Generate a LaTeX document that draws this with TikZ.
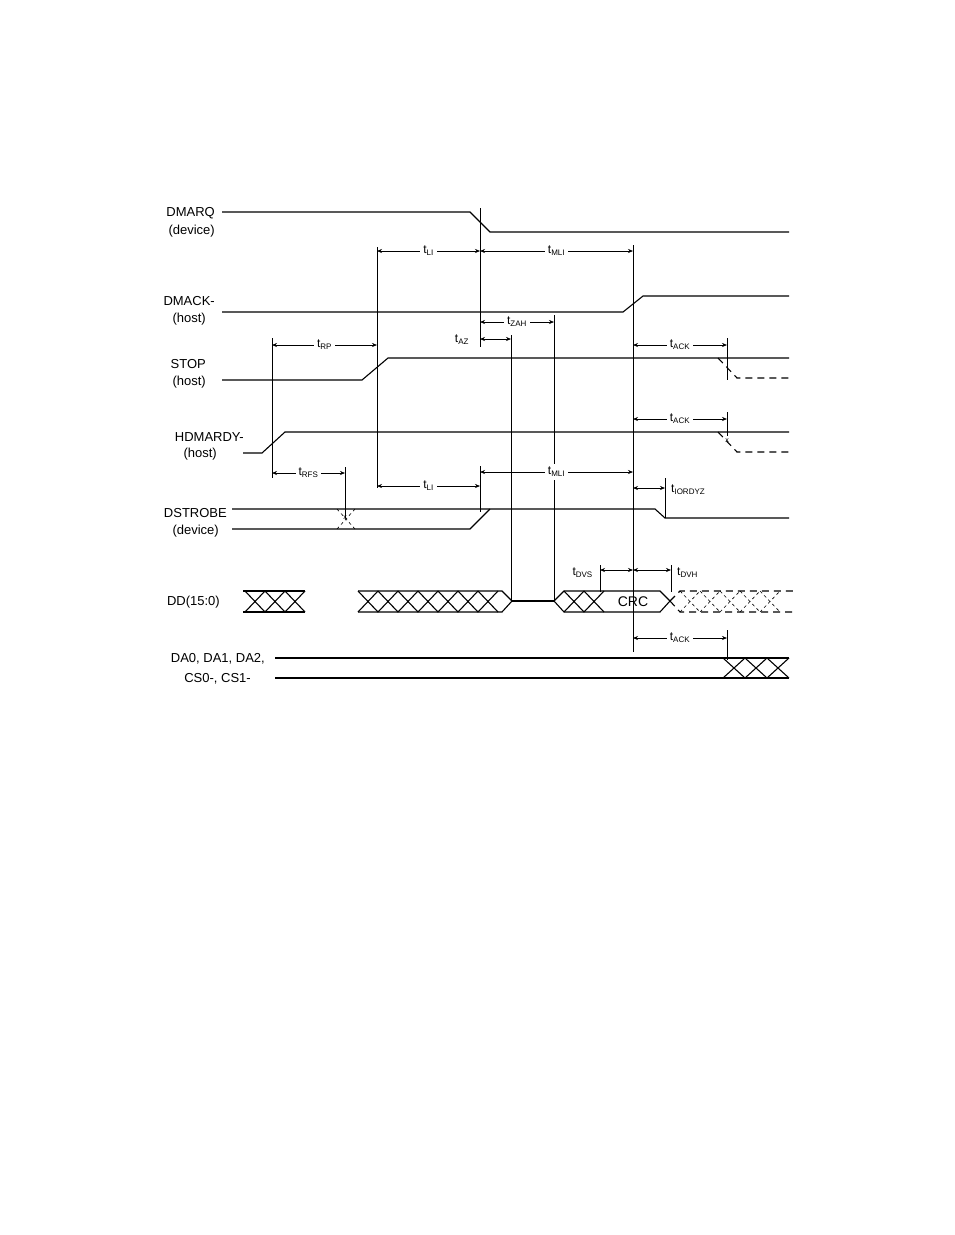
\documentclass[tikz,border=0pt]{standalone}
\usepackage{fontspec}
\setmainfont{Liberation Sans}
\usetikzlibrary{arrows.meta}
\begin{document}
\begin{tikzpicture}[x=1pt,y=-1pt,
  sig/.style={line width=1.1pt},
  vl/.style={line width=0.6pt},
  dim/.style={line width=0.6pt,{Stealth[length=5pt,width=4pt]}-{Stealth[length=5pt,width=4pt]}},
  lbl/.style={font=\fontsize{13}{14}\selectfont,inner sep=1pt},
  tl/.style={font=\fontsize{12}{13}\selectfont,fill=white,inner sep=3pt},
  dsh/.style={sig,dash pattern=on 7pt off 5pt}]
\useasboundingbox (0,0) rectangle (954,1235);
% labels
\node[lbl,anchor=east] (l1) at (216,213) {DMARQ};
\node[lbl,anchor=east] (l1b) at (216,231) {(device)};
\node[lbl,anchor=east] (l2) at (216,301) {DMACK-};
\node[lbl,anchor=east] (l2b) at (207,319) {(host)};
\node[lbl,anchor=east] (l3) at (207,364) {STOP};
\node[lbl,anchor=east] (l3b) at (207,382) {(host)};
\node[lbl,anchor=east] (l4) at (245,437) {HDMARDY-};
\node[lbl,anchor=east] (l4b) at (218,454) {(host)};
\node[lbl,anchor=east] (l5) at (228,513) {DSTROBE};
\node[lbl,anchor=east] (l5b) at (220,531) {(device)};
\node[lbl,anchor=east] (l6) at (221,602) {DD(15:0)};
\node[lbl,anchor=east] (l7) at (266,659) {DA0, DA1, DA2,};
\node[lbl,anchor=east] (l7b) at (252,679) {CS0-, CS1-};
% signals
\draw[sig] (222,212) -- (470,212) -- (490,232) -- (789,232);
\draw[sig] (222,312) -- (623,312) -- (643,296) -- (789,296);
\draw[sig] (222,380) -- (362,380) -- (388,358) -- (789,358);
\draw[dsh] (718,358) -- (737,378) -- (789,378);
\draw[sig] (243,453) -- (262,453) -- (285,432) -- (789,432);
\draw[dsh] (718,432) -- (737,452) -- (789,452);
\node[font=\scriptsize] (x1) at (727,441) {x};
\draw[sig] (232,509) -- (655,509) -- (665,518) -- (789,518);
\draw[sig] (232,529) -- (470,529) -- (490,509);
\draw[vl,dashed] (337,509) -- (355,529) (337,529) -- (355,509);
\node[font=\scriptsize] (x2) at (345,518) {x};
% DD bus
\draw[sig] (243,591) -- (305,591) (243,612) -- (305,612);
\foreach \a in {245,265,285} \draw[sig] (\a,591) -- (\a+20,612) (\a,612) -- (\a+20,591);
\draw[sig] (358,591) -- (502,591) -- (512,601) -- (502,612) -- (358,612);
\foreach \a in {358,378,...,478} \draw[sig] (\a,591) -- (\a+20,612) (\a,612) -- (\a+20,591);
\draw[sig] (512,601) -- (554,601);
\draw[sig] (554,601) -- (564,591) -- (660,591) -- (670,601) -- (660,612) -- (564,612) -- cycle;
\foreach \a in {564,584} \draw[sig] (\a,591) -- (\a+20,612) (\a,612) -- (\a+20,591);
\draw[dsh] (670,601) -- (680,591) -- (795,591) (670,601) -- (680,612) -- (795,612);
\foreach \a in {680,700,...,770} \draw[vl,dashed] (\a,591) -- (\a+20,612) (\a,612) -- (\a+20,591);
\node[font=\fontsize{14}{15}\selectfont] (crc) at (633,602) {CRC};
% DA
\draw[sig] (275,658) -- (789,658) (275,678) -- (789,678);
\foreach \a in {723,745,767} \draw[sig] (\a,658) -- (\a+22,678) (\a,678) -- (\a+22,658);
% vertical lines
\draw[vl] (377,247) -- (377,488);
\draw[vl] (480,208) -- (480,347) (480,466) -- (480,512);
\draw[vl] (633,245) -- (633,652);
\draw[vl] (511,335) -- (511,601);
\draw[vl] (554,315) -- (554,601);
\draw[vl] (272,338) -- (272,478);
\draw[vl] (345,467) -- (345,518);
\draw[vl] (727,338) -- (727,380) (727,412) -- (727,436) (727,630) -- (727,660);
\draw[vl] (665,478) -- (665,518);
\draw[vl] (600,565) -- (600,592) (671,565) -- (671,592);
% dimensions
\draw[dim] (377,251) -- node[tl] {t\textsubscript{LI}} (480,251);
\draw[dim] (480,251) -- node[tl] {t\textsubscript{MLI}} (633,251);
\draw[dim] (480,322) -- node[tl] {t\textsubscript{ZAH}} (554,322);
\draw[dim] (480,339) -- (511,339);
\node[tl,fill=none] (taz) at (462,340) {t\textsubscript{AZ}};
\draw[dim] (272,345) -- node[tl] {t\textsubscript{RP}} (377,345);
\draw[dim] (633,345) -- node[tl] {t\textsubscript{ACK}} (727,345);
\draw[dim] (633,419) -- node[tl] {t\textsubscript{ACK}} (727,419);
\draw[dim] (272,473) -- node[tl] {t\textsubscript{RFS}} (345,473);
\draw[dim] (377,486) -- node[tl] {t\textsubscript{LI}} (480,486);
\draw[dim] (480,472) -- node[tl] {t\textsubscript{MLI}} (633,472);
\draw[dim] (633,488) -- (665,488);
\node[tl,fill=none,anchor=west] (tio) at (668,490) {t\textsubscript{IORDYZ}};
\draw[dim] (600,570) -- (633,570);
\draw[dim] (633,570) -- (671,570);
\node[tl,fill=none,anchor=east] (tdvs) at (596,573) {t\textsubscript{DVS}};
\node[tl,fill=none,anchor=west] (tdvh) at (674,573) {t\textsubscript{DVH}};
\draw[dim] (633,638) -- node[tl] {t\textsubscript{ACK}} (727,638);
\end{tikzpicture}
\end{document}
